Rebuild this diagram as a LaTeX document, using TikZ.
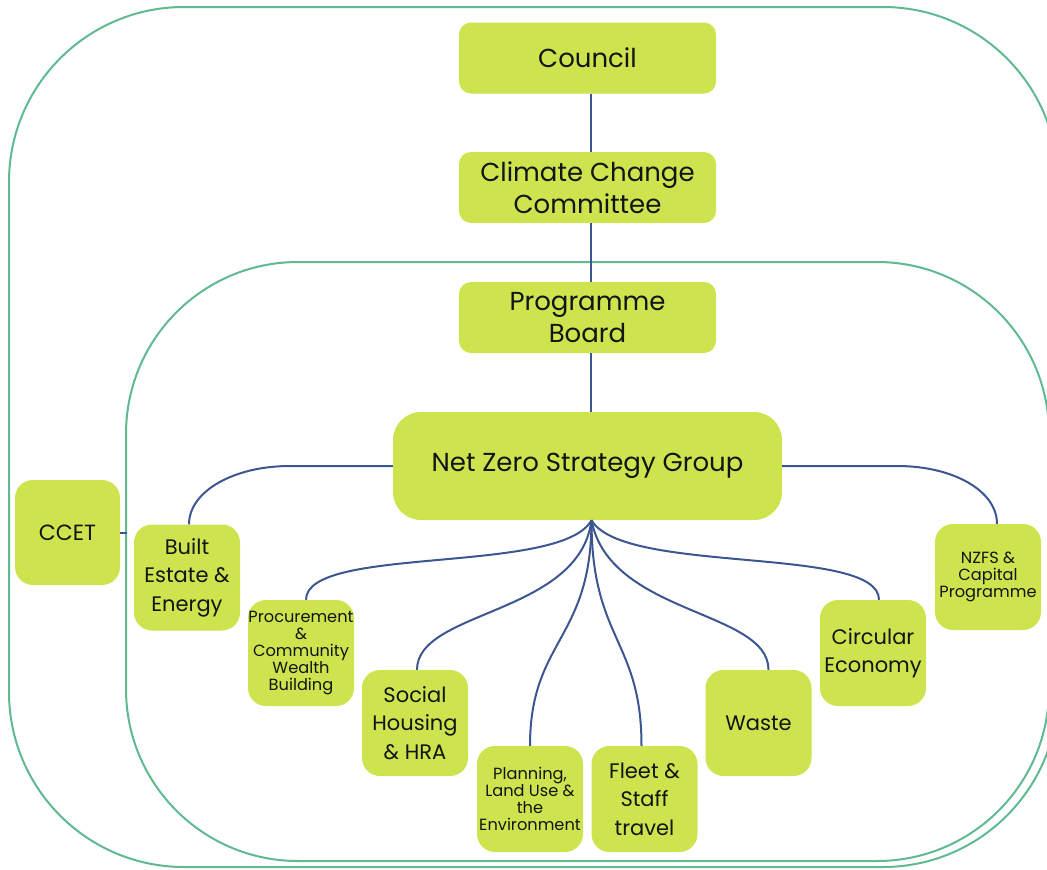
\documentclass[tikz,border=0pt]{standalone}
\usepackage{fontspec}
\setmainfont{Poppins}
\usetikzlibrary{calc}
\definecolor{boxfill}{RGB}{205,228,78}
\definecolor{framecol}{RGB}{95,185,145}
\definecolor{linkcol}{RGB}{60,86,145}
\definecolor{txt}{RGB}{20,20,20}
\begin{document}
\begin{tikzpicture}[x=1pt,y=-1pt,
  box/.style={fill=boxfill, rounded corners=18pt, inner sep=0pt, align=center, text=txt,
    minimum width=106pt, minimum height=106pt},
  topbox/.style={box, rounded corners=12pt, minimum width=257pt, minimum height=71pt,
    font=\fontsize{26}{32}\selectfont},
  midtext/.style={font=\fontsize{21}{28.5}\selectfont},
  smalltext/.style={font=\fontsize{16.2}{17}\selectfont},
  frameline/.style={draw=framecol, line width=2pt},
  link/.style={draw=linkcol, line width=2pt}]
\useasboundingbox (0,0) rectangle (1047,870);
\clip (0,0) rectangle (1047,870);
% frames
\draw[frameline, rounded corners=175pt] (9,7) rectangle (1058,867);
\draw[frameline, rounded corners=172pt] (126,262) rectangle (1049,861);
% top chain
\node[topbox] (council) at (587.5,58) {Council};
\node[topbox] (ccc) at (587.5,187.5) {Climate Change\\Committee};
\node[topbox] (pb) at (587.5,317.5) {Programme\\Board};
\node[box, rounded corners=28pt, minimum width=389pt, minimum height=108pt,
  font=\fontsize{26}{32}\selectfont] (nzsg) at (587.5,466) {Net Zero Strategy Group};
% side boxes
\node[box, minimum width=105pt, minimum height=105pt, font=\fontsize{22}{28}\selectfont] (ccet) at (67.5,532.5) {CCET};
\node[box, midtext] (built) at (187,577.5) {Built\\Estate \&\\Energy};
\node[box, smalltext] (proc) at (301,653) {Procurement\\\&\\Community\\Wealth\\Building};
\node[box, midtext] (social) at (415,723) {Social\\Housing\\\& HRA};
\node[box, smalltext] (plan) at (530,799) {Planning,\\Land Use \&\\the\\Environment};
\node[box, midtext] (fleet) at (644.5,799) {Fleet \&\\Staff\\travel};
\node[box, midtext] (waste) at (758.5,723) {Waste};
\node[box, midtext] (circ) at (873,653) {Circular\\Economy};
\node[box, smalltext] (nzfs) at (988,577) {NZFS \&\\Capital\\Programme};
% connectors
\draw[link] ($(council.south)+(3.5,0)$) -- ($(ccc.north)+(3.5,0)$);
\draw[link] ($(ccc.south)+(3.5,0)$) -- ($(pb.north)+(3.5,0)$);
\draw[link] ($(pb.south)+(3.5,0)$) -- ($(nzsg.north)+(3.5,0)$);
\coordinate (frameL) at (127,533);
\draw[link] (ccet.east |- frameL) -- (frameL);
\draw[link] (nzsg.west) -- ++(-103,0) .. controls +(-56,0) and ($(built.north)+(2,-33)$) .. ($(built.north)+(2,0)$);
\draw[link] (nzsg.east) -- ++(115,0) .. controls +(56,0) and ($(nzfs.north)+(9,-33)$) .. ($(nzfs.north)+(9,0)$);
\coordinate (fan) at ($(nzsg.south)+(4,0)$);
\draw[link] (fan) .. controls +(-30,55) and ($(proc.north)+(5,-55)$) .. ($(proc.north)+(5,0)$);
\draw[link] (fan) .. controls +(-12,95) and ($(social.north)+(2,-60)$) .. ($(social.north)+(2,0)$);
\draw[link] (fan) .. controls +(0,120) and ($(plan.north)+(0,-106)$) .. (plan.north);
\draw[link] (fan) .. controls +(0,120) and ($(fleet.north)+(-3,-106)$) .. ($(fleet.north)+(-3,0)$);
\draw[link] (fan) .. controls +(18,95) and ($(waste.north)+(10,-60)$) .. ($(waste.north)+(10,0)$);
\draw[link] (fan) .. controls +(32,55) and ($(circ.north)+(6,-55)$) .. ($(circ.north)+(6,0)$);
\end{tikzpicture}
\end{document}
